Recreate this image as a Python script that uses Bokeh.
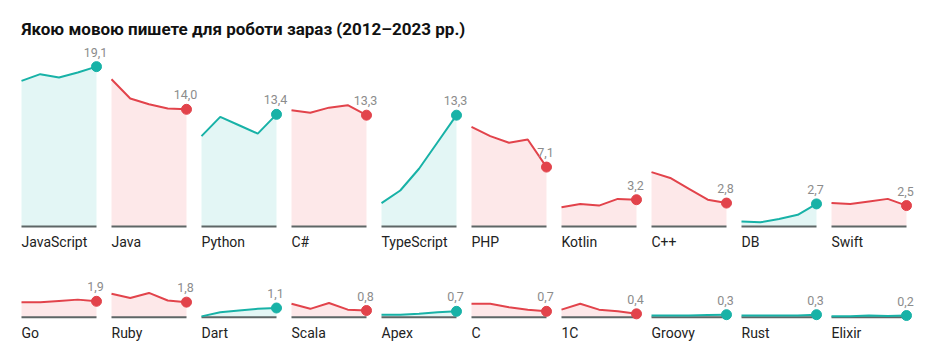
from bokeh.plotting import figure
from bokeh.models import Range1d
from bokeh.core.properties import value
from bokeh.embed import file_html
from bokeh.resources import INLINE

title = "Якою мовою пишете для роботи зараз (2012–2023 рр.)"
years = [2012, 2015, 2018, 2021, 2023]

languages = ["JavaScript", "Java", "Python", "C#", "TypeScript", "PHP", "Kotlin", "C++", "DB", "Swift",
             "Go", "Ruby", "Dart", "Scala", "Apex", "C", "1C", "Groovy", "Rust", "Elixir"]

javascript = [17.4, 18.2, 17.8, 18.4, 19.1]
java = [17.6, 15.3, 14.6, 14.1, 14.0]
python = [10.8, 13.1, 12.1, 11.1, 13.4]
csharp = [13.9, 13.6, 14.2, 14.5, 13.3]
typescript = [2.8, 4.3, 6.9, 10.1, 13.3]
php = [11.9, 10.8, 10.0, 10.4, 7.1]
kotlin = [2.3, 2.7, 2.5, 3.3, 3.2]
cpp = [6.5, 5.8, 4.5, 3.2, 2.8]
db = [0.6, 0.5, 0.9, 1.4, 2.7]
swift = [2.8, 2.7, 3.0, 3.3, 2.5]
go = [1.8, 1.8, 1.95, 2.1, 1.9]
ruby = [2.8, 2.3, 2.9, 2.0, 1.8]
dart = [0.1, 0.6, 0.8, 1.0, 1.1]
scala = [1.6, 1.0, 1.7, 0.9, 0.8]
apex = [0.3, 0.3, 0.4, 0.6, 0.7]
c_lang = [1.6, 1.6, 1.2, 0.9, 0.7]
onec = [0.9, 1.6, 0.9, 0.7, 0.4]
groovy = [0.2, 0.2, 0.2, 0.25, 0.3]
rust = [0.2, 0.2, 0.2, 0.2, 0.3]
elixir = [0.1, 0.1, 0.2, 0.15, 0.2]

series = [javascript, java, python, csharp, typescript, php, kotlin, cpp, db, swift,
          go, ruby, dart, scala, apex, c_lang, onec, groovy, rust, elixir]

UP, UP_FILL = "#18b2a7", "#e3f6f5"
DOWN, DOWN_FILL = "#e2434b", "#fde8e9"

# layout (pixels -> data units)
W, H = 921, 355
PX_X = 18.75          # px per year step
PX_Y = 8.37           # px per percentage point
STEP = 90 / PX_X      # panel pitch in x units
LEFT = 21 / PX_X
ROW_OFF = [0.0, -90.7 / PX_Y]
TOP_PX = 226

p = figure(width=W, height=H, output_backend="svg", toolbar_location=None,
           x_axis_type=None, y_axis_type=None, min_border=0,
           x_range=Range1d(-LEFT, -LEFT + W / PX_X),
           y_range=Range1d((TOP_PX - H) / PX_Y, TOP_PX / PX_Y))
p.outline_line_color = None
p.grid.visible = False
p.background_fill_color = "white"
p.border_fill_color = "white"

n = len(years)
for i, (name, vals) in enumerate(zip(languages, series)):
    row, col = divmod(i, 10)
    x0 = col * STEP
    base = ROW_OFF[row]
    xs = [x0 + k for k in range(n)]
    ys = [base + v for v in vals]
    up = vals[-1] >= vals[-2]
    lc, fc = (UP, UP_FILL) if up else (DOWN, DOWN_FILL)
    p.varea(x=xs, y1=[base] * n, y2=ys, fill_color=fc)
    p.line(x=[xs[0], xs[-1]], y=[base, base], line_color="#5e6666", line_width=2)
    p.line(x=xs, y=ys, line_color=lc, line_width=2)
    p.scatter(x=[xs[-1]], y=[ys[-1]], size=10, fill_color=lc, line_color=lc)
    p.text(x=[xs[-1] - 0.05], y=[ys[-1] + 14.5 / PX_Y], text=[f"{vals[-1]:.1f}".replace(".", ",")],
           text_align="center", text_baseline="middle",
           text_font=value("Roboto"), text_font_size=value("12.5px"), text_color="#8c8c8c")
    p.text(x=[x0], y=[base - 15.5 / PX_Y], text=[name],
           text_align="left", text_baseline="middle",
           text_font=value("Roboto"), text_font_size=value("14px"), text_color="#222222")

p.text(x=[0], y=[(TOP_PX - 28.5) / PX_Y], text=[title], text_align="left", text_baseline="middle",
       text_font=value("Roboto"), text_font_size=value("17px"), text_font_style="bold",
       text_color="#111111")

open("out.html", "w").write(file_html(p, INLINE))
